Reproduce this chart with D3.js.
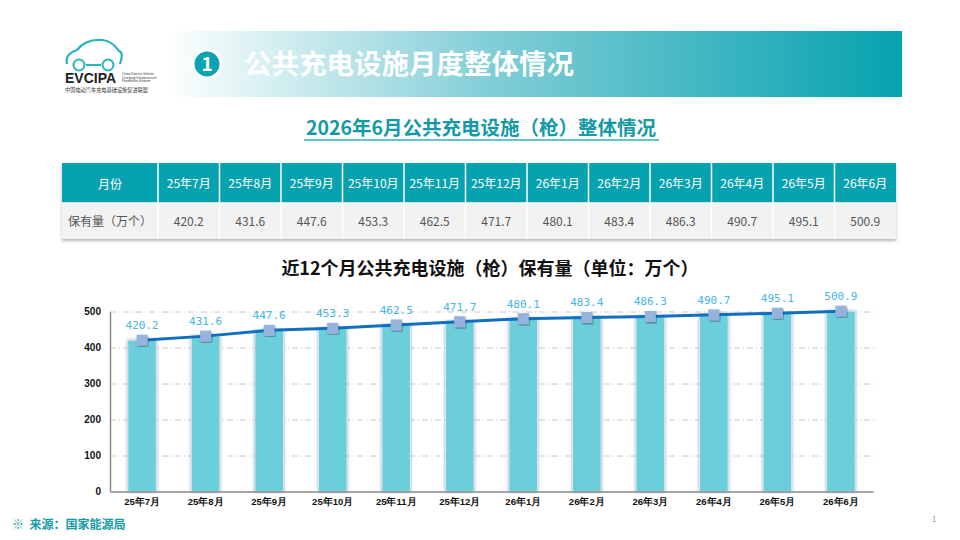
<!DOCTYPE html>
<html>
<head>
<meta charset="utf-8">
<style>
  body { margin: 0; background: #fff; }
  svg { display: block; font-family: "Noto Sans CJK SC", "Noto Sans", sans-serif; }
  .grid line { stroke: #c8c8c8; stroke-dasharray: 6 3 1 3; }
  .grid .domain { display: none; }
</style>
</head>
<body>
<svg width="960" height="540"></svg>
<script src="https://cdn.jsdelivr.net/npm/d3@7/dist/d3.min.js"></script>
<script>
// data
var months = ["25年7月", "25年8月", "25年9月", "25年10月", "25年11月", "25年12月",
              "26年1月", "26年2月", "26年3月", "26年4月", "26年5月", "26年6月"];
var stock = [420.2, 431.6, 447.6, 453.3, 462.5, 471.7, 480.1, 483.4, 486.3, 490.7, 495.1, 500.9];
var yTicks = [0, 100, 200, 300, 400, 500];

var teal = "#07a2b0";
var svg = d3.select("svg");
var defs = svg.append("defs");

// header band
var grad = defs.append("linearGradient").attr("id", "hdr");
grad.append("stop").attr("offset", "0%").attr("stop-color", "#ffffff");
grad.append("stop").attr("offset", "45%").attr("stop-color", "#7fcdd6");
grad.append("stop").attr("offset", "100%").attr("stop-color", "#05a2af");
svg.append("rect").attr("x", 165).attr("y", 31).attr("width", 737).attr("height", 66)
  .attr("fill", "url(#hdr)");
svg.append("circle").attr("cx", 207).attr("cy", 64).attr("r", 14)
  .attr("fill", "#0aa3b1").attr("stroke", "#fff").attr("stroke-width", 3);
svg.append("text").attr("x", 207).attr("y", 71).attr("text-anchor", "middle")
  .attr("fill", "#fff").attr("font-size", 19).attr("font-weight", "bold").text("1");
svg.append("text").attr("x", 244).attr("y", 74)
  .attr("fill", "#fff").attr("font-size", 27.5).attr("font-weight", "bold")
  .text("公共充电设施月度整体情况");

// logo
var logo = svg.append("g").attr("transform", "translate(65,38)");
logo.append("path")
  .attr("d", "M2,26 C0,18 6,14 12,12 C18,4 28,1 38,2 C46,3 50,8 54,13 C58,14 57,20 55,26")
  .attr("fill", "none").attr("stroke", "#2bb3c0").attr("stroke-width", 2.2);
[14, 43].forEach(function(cx) {
  logo.append("circle").attr("cx", cx).attr("cy", 27).attr("r", 5.5)
    .attr("fill", "#fff").attr("stroke", "#2bb3c0").attr("stroke-width", 2);
});
logo.append("line").attr("x1", 21).attr("x2", 36).attr("y1", 27).attr("y2", 27)
  .attr("stroke", "#2bb3c0").attr("stroke-width", 2);
logo.append("text").attr("x", 0).attr("y", 45).attr("font-size", 14).attr("font-weight", "bold")
  .attr("font-family", "Liberation Sans, Arial, sans-serif").attr("fill", "#222").text("EVCIPA");
["China Electric Vehicle", "Charging Infrastructure", "Promotion Alliance"].forEach(function(t, i) {
  logo.append("text").attr("x", 57).attr("y", 37 + i * 3.6).attr("font-size", 3.2)
    .attr("fill", "#333").text(t);
});
logo.append("text").attr("x", 0).attr("y", 54).attr("font-size", 5.2).attr("fill", "#333")
  .text("中国电动汽车充电基础设施促进联盟");

// subtitle
svg.append("text").attr("x", 481).attr("y", 135).attr("text-anchor", "middle")
  .attr("fill", "#139aa6").attr("font-size", 19.5).attr("font-weight", "bold")
  .text("2026年6月公共充电设施（枪）整体情况");
svg.append("line").attr("x1", 304).attr("x2", 659).attr("y1", 140).attr("y2", 140)
  .attr("stroke", "#62c4cd").attr("stroke-width", 2);

// table
var tableLeft = 62, tableRight = 896, firstCol = 158;
var colX = d3.scaleBand().domain(months).range([firstCol, tableRight]);
var tbl = svg.append("g");
defs.append("filter").attr("id", "tshadow").append("feDropShadow")
  .attr("dx", 0).attr("dy", 2).attr("stdDeviation", 1.5).attr("flood-color", "#888").attr("flood-opacity", 0.6);
tbl.append("rect").attr("x", tableLeft).attr("y", 163).attr("width", tableRight - tableLeft)
  .attr("height", 76).attr("fill", "#f2f2f2").attr("filter", "url(#tshadow)");
tbl.append("rect").attr("x", tableLeft).attr("y", 163).attr("width", tableRight - tableLeft)
  .attr("height", 40).attr("fill", teal);
// vertical separators
[firstCol].concat(months.slice(1).map(function(m) { return colX(m); })).forEach(function(x) {
  tbl.append("line").attr("x1", x).attr("x2", x).attr("y1", 163).attr("y2", 239)
    .attr("stroke", "#fff").attr("stroke-width", 1.5);
});
tbl.append("line").attr("x1", tableLeft).attr("x2", tableRight).attr("y1", 203).attr("y2", 203)
  .attr("stroke", "#fff").attr("stroke-width", 1.5);
tbl.append("text").attr("x", (tableLeft + firstCol) / 2).attr("y", 189).attr("text-anchor", "middle")
  .attr("fill", "#fff").attr("font-size", 12).text("月份");
tbl.append("text").attr("x", (tableLeft + firstCol) / 2).attr("y", 226).attr("text-anchor", "middle")
  .attr("fill", "#555").attr("font-size", 12).text("保有量（万个）");
tbl.selectAll("text.hd").data(months).enter().append("text").attr("class", "hd")
  .attr("x", function(d) { return colX(d) + colX.bandwidth() / 2; })
  .attr("y", 188).attr("text-anchor", "middle").attr("fill", "#fff").attr("font-size", 12)
  .text(function(d) { return d; });
tbl.selectAll("text.val").data(stock).enter().append("text").attr("class", "val")
  .attr("x", function(d, i) { return colX(months[i]) + colX.bandwidth() / 2; })
  .attr("y", 226).attr("text-anchor", "middle").attr("fill", "#555").attr("font-size", 12)
  .text(function(d) { return d.toFixed(1); });

// chart title
svg.append("text").attr("x", 490).attr("y", 275).attr("text-anchor", "middle")
  .attr("fill", "#111").attr("font-size", 18).attr("font-weight", "bold")
  .text("近12个月公共充电设施（枪）保有量（单位：万个）");

// chart
var margin = {left: 110, right: 873, top: 311.5, bottom: 491.5};
var x = d3.scaleBand().domain(months).range([margin.left, margin.right]).paddingInner(0.55).paddingOuter(0.28);
var xc = function(d) { return x(d) + x.bandwidth() / 2; };
var y = d3.scaleLinear().domain([0, 500]).range([margin.bottom, margin.top]);

svg.append("g").attr("class", "grid")
  .attr("transform", "translate(" + margin.left + ",0)")
  .call(d3.axisLeft(y).tickValues(yTicks.slice(1)).tickSize(-(margin.right + 2 - margin.left)).tickFormat(""));

defs.append("filter").attr("id", "bshadow").attr("x", "-30%").attr("width", "160%")
  .append("feDropShadow").attr("dx", 0).attr("dy", 0).attr("stdDeviation", 1.6)
  .attr("flood-color", "#7f8fb8").attr("flood-opacity", 0.8);

svg.append("g").selectAll("rect").data(stock).enter().append("rect")
  .attr("x", function(d, i) { return x(months[i]); })
  .attr("y", function(d) { return y(d); })
  .attr("width", x.bandwidth())
  .attr("height", function(d) { return y(0) - y(d); })
  .attr("fill", "#6acfdb").attr("stroke", "#dfe6f0").attr("stroke-width", 1)
  .attr("filter", "url(#bshadow)");

// axes
var yAxis = svg.append("g").attr("transform", "translate(" + margin.left + ",0)")
  .call(d3.axisLeft(y).tickValues(yTicks).tickSize(0).tickPadding(9));
yAxis.select(".domain").attr("stroke", "#888").attr("stroke-width", 1.5);
yAxis.selectAll("text").attr("font-size", 10).attr("font-weight", "bold").attr("fill", "#111")
  .attr("font-family", "Liberation Sans, Arial, sans-serif");

var xAxis = svg.append("g").attr("transform", "translate(0," + margin.bottom + ")")
  .call(d3.axisBottom(x).tickSize(0).tickPadding(7));
xAxis.select(".domain").attr("stroke", "#888").attr("stroke-width", 1.5);
xAxis.selectAll("text").attr("font-size", 9.5).attr("font-weight", "bold").attr("fill", "#111");

// line
svg.append("path").datum(stock)
  .attr("d", d3.line().x(function(d, i) { return xc(months[i]); }).y(function(d) { return y(d); }))
  .attr("fill", "none").attr("stroke", "#106fc1").attr("stroke-width", 3);

defs.append("filter").attr("id", "mshadow").append("feDropShadow")
  .attr("dx", 1).attr("dy", 1.5).attr("stdDeviation", 1).attr("flood-color", "#333").attr("flood-opacity", 0.5);
svg.append("g").selectAll("rect").data(stock).enter().append("rect")
  .attr("x", function(d, i) { return xc(months[i]) - 5.5; })
  .attr("y", function(d) { return y(d) - 5.5; })
  .attr("width", 11).attr("height", 11)
  .attr("fill", "#95b3dc").attr("filter", "url(#mshadow)");

svg.append("g").selectAll("text").data(stock).enter().append("text")
  .attr("x", function(d, i) { return xc(months[i]); })
  .attr("y", function(d) { return y(d) - 11; })
  .attr("text-anchor", "middle").attr("font-size", 11).attr("fill", "#43b5ea")
  .attr("font-family", "DejaVu Sans Mono, Liberation Mono, monospace")
  .text(function(d) { return d.toFixed(1); });

// footer
svg.append("text").attr("x", 12).attr("y", 529).attr("fill", "#139aa6").attr("font-size", 12)
  .attr("font-weight", "bold").attr("xml:space", "preserve").text("※  来源：国家能源局");
svg.append("text").attr("x", 932).attr("y", 522).attr("fill", "#999").attr("font-size", 8).text("1");
</script>
</body>
</html>
